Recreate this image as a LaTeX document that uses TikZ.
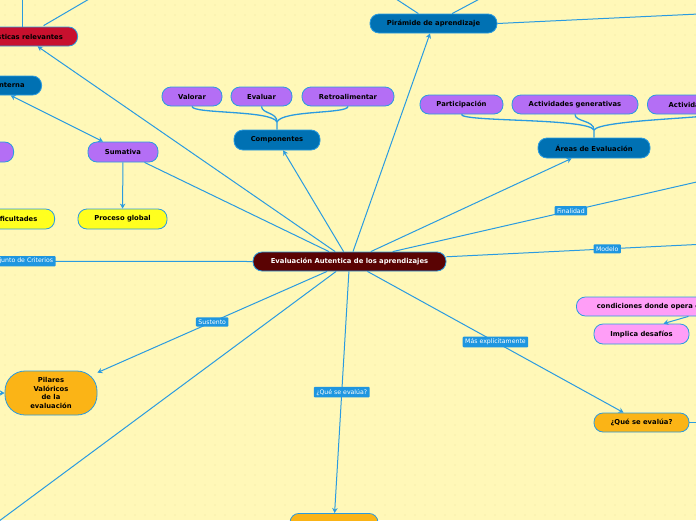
\documentclass[tikz,border=0pt]{standalone}
\usepackage{fontspec}
\setmainfont{DejaVu Sans}
\usepackage{xcolor}
\usepackage{tikz}
\usetikzlibrary{positioning, arrows.meta, calc}

\definecolor{bgyellow}{HTML}{FFF8B8}
\definecolor{dotyellow}{HTML}{EFE59C}
\definecolor{linkblue}{HTML}{2A9BE0}
\definecolor{topicblue}{HTML}{0071B3}
\definecolor{lilac}{HTML}{B46EF5}
\definecolor{crimson}{HTML}{C8102E}
\definecolor{maroonred}{HTML}{5A0303}
\definecolor{lemon}{HTML}{FFFF1F}
\definecolor{amber}{HTML}{FBB416}
\definecolor{pinky}{HTML}{FF9EF7}
\definecolor{tagblue}{HTML}{1E96E0}

\begin{document}
\begin{tikzpicture}[x=1pt, y=-1pt, font=\fontsize{6.8}{8.5}\selectfont\bfseries,
  topic/.style={draw=linkblue, line width=0.8pt, rounded corners=9pt,
                minimum height=19pt, inner xsep=6pt, align=center},
  tag/.style={fill=tagblue, text=white, font=\fontsize{6.2}{7}\selectfont,
              inner xsep=2.5pt, inner ysep=2.2pt, rounded corners=1pt},
  conn/.style={draw=linkblue, line width=1pt},
  arr/.style={conn, -{Stealth[length=5pt, width=5.5pt]}},
  branch/.style={draw=linkblue, line width=1.3pt}
]
  \useasboundingbox (0,0) rectangle (696,520);
  \clip (0,0) rectangle (696,520);
  \fill[bgyellow] (0,0) rectangle (696,520);
  \foreach \i in {0,...,69}
    \foreach \j in {0,...,51}
      \fill[dotyellow] (\i*10+5,\j*10+5) circle (0.7pt);

  % central topic
  \node[topic, fill=maroonred, text=white, minimum width=193pt] (central) at (349.5,261.5)
    {Evaluación Autentica de los aprendizajes};

  % left side
  \node[topic, fill=crimson, minimum width=130pt, anchor=east] (rel) at (78,36.5) {Características relevantes};
  \node[topic, fill=topicblue, minimum width=62pt, anchor=east] (int) at (42,85.5) {Interna};
  \node[topic, fill=lilac, minimum width=70pt, minimum height=20pt, anchor=east] (form) at (14,152) {Formativa};
  \node[topic, fill=lilac, minimum width=70pt, minimum height=20pt] (sum) at (123,152) {Sumativa};
  \node[topic, fill=lemon, minimum width=80pt, minimum height=20pt, anchor=east] (dif) at (55,219) {Dificultades};
  \node[topic, fill=lemon, minimum width=89pt, minimum height=20pt] (glob) at (122.5,219) {Proceso global};
  \node[topic, fill=amber, minimum width=92pt, minimum height=44pt, rounded corners=20pt] (pil) at (51,393)
    {Pilares\\Valóricos\\de la\\evaluación};

  % top
  \node[topic, fill=lilac, minimum width=60pt] (val) at (192,96.5) {Valorar};
  \node[topic, fill=lilac, minimum width=61pt] (eva) at (261.5,96.5) {Evaluar};
  \node[topic, fill=lilac, minimum width=92pt] (retro) at (348,96.5) {Retroalimentar};
  \node[topic, fill=topicblue, minimum width=86pt, minimum height=20pt] (comp) at (277,140) {Componentes};
  \node[topic, fill=topicblue, minimum width=127pt] (pir) at (433.5,23.5) {Pirámide de aprendizaje};
  \node[topic, fill=lilac, minimum width=83pt] (part) at (461.5,104.5) {Participación};
  \node[topic, fill=lilac, minimum width=126pt] (gen) at (575,104.5) {Actividades generativas};
  \node[topic, fill=lilac, minimum width=130pt, anchor=west] (aut) at (647,104.5) {Actividades auténticas};
  \node[topic, fill=topicblue, minimum width=112pt, minimum height=20pt] (areas) at (594,148) {Áreas de Evaluación};

  % right side and bottom
  \node[topic, fill=pinky, minimum width=190pt, anchor=west] (cond) at (576,306.5) {condiciones donde opera el estudiante};
  \node[topic, fill=pinky, minimum width=95pt, minimum height=20pt] (imp) at (641.5,334) {Implica desafíos};
  \node[topic, fill=amber, minimum width=95pt] (quer) at (641.5,422.5) {¿Qué se evalúa?};
  \node[topic, fill=amber, minimum width=88pt, minimum height=20pt, anchor=north] (queb) at (334,513) {};

  % free ends
  \coordinate (crit) at (-212,261);
  \coordinate (fin) at (749,170);
  \coordinate (mod) at (768,241);
  \coordinate (sw) at (-40,550);
  \coordinate (relup) at (22,-10);
  \coordinate (relur) at (96,-5);
  \coordinate (pirul) at (390,-5);
  \coordinate (pirur) at (487,-5);
  \coordinate (pirr) at (720,13);
  \coordinate (pilw) at (-20,393);
  \coordinate (querr) at (720,422.5);

  % connectors from the central topic
  \draw[arr] (central) -- ($(rel.south)+(25,0)$);
  \draw[conn] (central) -- (sum);
  \draw[arr] (central) -- (comp);
  \draw[arr] (central) -- (pir);
  \draw[arr] (central) -- (areas);
  \draw[conn] (central) -- node[tag]{Finalidad} (fin);
  \draw[conn] (central) -- node[tag]{Modelo} (mod);
  \draw[conn] (central.west) -- node[tag]{Conjunto de Criterios} (crit);
  \draw[arr] (central) -- node[tag]{Sustento} (pil);
  \draw[arr] (central) -- node[tag]{Más explícitamente} (quer);
  \draw[arr] (central) -- node[tag]{¿Qué se evalúa?} (queb);
  \draw[conn] (central) -- (sw);

  % other connectors
  \draw[conn, {Stealth[length=5pt, width=5.5pt]}-{Stealth[length=5pt, width=5.5pt]}]
    (int.south) -- ($(sum.north)+(-20,0)$);
  \draw[arr] (sum) -- (glob);
  \draw[conn] (rel.north -| relup) -- (relup);
  \draw[conn] ($(rel.north)+(31,-1)$) -- (relur);
  \draw[conn] (pir) -- (pirul);
  \draw[conn] (pir) -- (pirur);
  \draw[conn] (pir.east) -- (pirr);
  \draw[arr] (pilw) -- (pil.west);
  \draw[conn] (quer.east) -- (querr);
  \draw[arr] ($(cond.south)+(17,0)$) -- ($(imp.north)+(22,0)$);

  % sub-branches
  \draw[branch] (val.south) .. controls (192,114) and (272,110) .. (277,122) -- (comp.north);
  \draw[branch] (eva.south) .. controls (262,114) and (277,112) .. (277,122);
  \draw[branch] (retro.south) .. controls (348,114) and (282,110) .. (277,122);
  \draw[branch] (part.south) .. controls (461,122) and (588,118) .. (594,130) -- (areas.north);
  \draw[branch] (gen.south) .. controls (575,122) and (594,120) .. (594,130);
  \draw[branch] (aut.south) .. controls (712,118) and (600,120) .. (594,130);
\end{tikzpicture}
\end{document}
